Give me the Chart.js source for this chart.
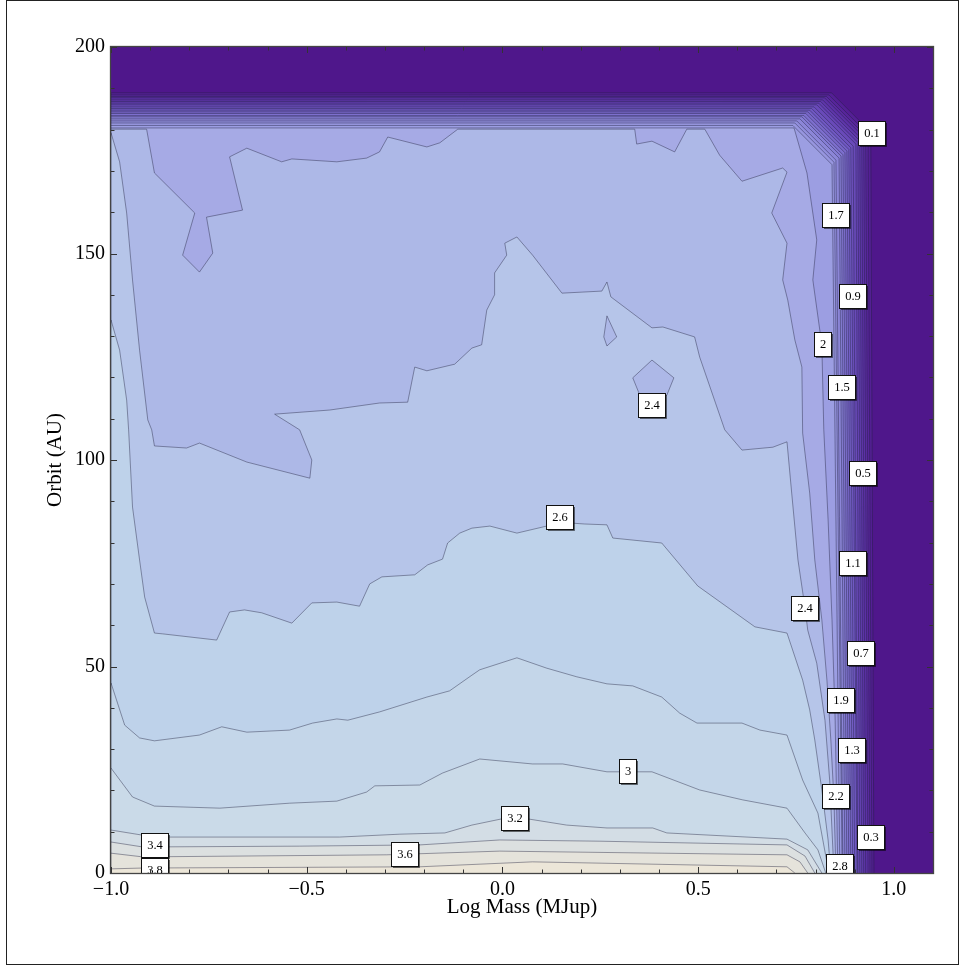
<!DOCTYPE html>
<html><head><meta charset="utf-8">
<script src="https://cdn.jsdelivr.net/npm/chart.js@4.4.1/dist/chart.umd.min.js"></script>
<style>html,body{margin:0;padding:0;background:#fff}#wrap{position:relative;width:960px;height:966px}</style>
</head><body><div id="wrap"><canvas id="c"></canvas></div>
<script>
// ---------- axis ticks ----------
const xMajorTicks = [-1, -0.5, 0, 0.5, 1];
const xMinorTicks = [-0.9,-0.8,-0.7,-0.6,-0.4,-0.3,-0.2,-0.1,0.1,0.2,0.3,0.4,0.6,0.7,0.8,0.9];
const yMajorTicks = [0, 50, 100, 150, 200];
const yMinorTicks = [10,20,30,40,60,70,80,90,110,120,130,140,160,170,180,190];

// ---------- dense contour band (levels 0.1 .. 1.9) ----------
const bandLevels       = [0.1,0.2,0.3,0.4,0.5,0.6,0.7,0.8,0.9,1.0,1.1,1.2,1.3,1.4,1.5,1.6,1.7,1.8,1.9];
const bandTopY         = [188.9,188.4,188.0,187.7,187.2,186.8,186.4,186.0,185.5,185.1,184.7,184.3,183.9,183.4,183.1,182.6,182.1,181.6,181.0];
const bandRightTopX    = [0.941,0.934,0.928,0.923,0.918,0.913,0.908,0.903,0.896,0.890,0.885,0.880,0.875,0.870,0.865,0.860,0.852,0.847,0.842];
const bandRightBottomX = [0.949,0.944,0.939,0.934,0.928,0.923,0.918,0.913,0.908,0.906,0.900,0.895,0.890,0.885,0.880,0.875,0.870,0.868,0.862];

// ---------- traced contours (value >= level lies to the lower-left) ----------
const contour20 = [[-1,180.4],[0.745,180.4],[0.778,169.5],[0.803,153.3],[0.793,143.6],[0.816,127.9],[0.821,107.3],[0.832,85.5],[0.842,61.3],[0.850,37.0],[0.857,0]];
const contour22 = [[-1,180.1],[-0.909,180.1],[-0.889,169.5],[-0.786,159.8],[-0.817,149.6],[-0.774,145.5],[-0.740,150.1],[-0.756,158.8],[-0.664,160.5],[-0.697,173.4],[-0.653,175.5],[-0.564,172.2],[-0.538,172.9],[-0.423,172.2],[-0.347,173.1],[-0.314,174.6],[-0.293,178.2],[-0.193,175.8],[-0.160,176.8],[-0.114,180.1],[0.338,180.1],[0.343,176.5],[0.382,177.2],[0.440,174.6],[0.471,180.1],[0.517,180.1],[0.555,173.8],[0.612,167.5],[0.716,170.7],[0.727,169.7],[0.688,159.8],[0.727,152.5],[0.716,143.6],[0.729,138.7],[0.747,129.1],[0.765,122.5],[0.767,106.5],[0.785,92.0],[0.798,75.8],[0.816,61.3],[0.829,46.7],[0.839,32.2],[0.847,17.7],[0.852,0]];
const contour24 = [[-1,179.2],[-0.978,172.2],[-0.960,159.8],[-0.945,143.6],[-0.927,126.6],[-0.906,109.7],[-0.896,107.3],[-0.889,103.4],[-0.807,102.9],[-0.774,104.1],[-0.653,99.5],[-0.492,95.6],[-0.487,100.0],[-0.518,107.3],[-0.582,111.1],[-0.441,112.1],[-0.314,113.8],[-0.242,114.0],[-0.224,122.5],[-0.193,121.6],[-0.122,123.2],[-0.078,127.1],[-0.053,127.9],[-0.040,136.3],[-0.020,140.0],[-0.020,145.3],[0.011,149.6],[0.006,152.5],[0.037,154.0],[0.077,149.6],[0.152,140.4],[0.254,140.9],[0.267,143.1],[0.277,139.5],[0.382,132.0],[0.410,132.2],[0.491,129.8],[0.504,124.9],[0.568,107.3],[0.612,102.4],[0.691,103.1],[0.727,104.4],[0.739,92.0],[0.755,75.8],[0.773,64.2],[0.780,58.8],[0.803,50.8],[0.824,37.0],[0.836,22.5],[0.847,0]];
const hole24a  = [[0.382,124.2],[0.438,119.9],[0.420,115.7],[0.351,115.7],[0.333,119.9],[0.382,124.2]];
const hole24b  = [[0.267,134.9],[0.292,129.8],[0.267,127.6],[0.259,129.8],[0.267,134.9]];
const contour26 = [[-1,133.9],[-0.978,126.6],[-0.960,114.5],[-0.955,107.3],[-0.945,88.6],[-0.927,75.8],[-0.914,66.8],[-0.889,58.1],[-0.868,57.9],[-0.730,56.4],[-0.697,63.2],[-0.659,63.7],[-0.615,63.0],[-0.538,60.5],[-0.487,65.4],[-0.423,65.6],[-0.365,64.6],[-0.339,70.0],[-0.308,71.7],[-0.224,72.2],[-0.191,74.6],[-0.153,76.0],[-0.140,79.9],[-0.109,82.3],[-0.078,83.5],[-0.032,84.0],[0.037,82.3],[0.113,84.0],[0.180,84.7],[0.210,84.5],[0.267,84.3],[0.282,81.1],[0.407,79.9],[0.499,69.5],[0.645,59.6],[0.727,58.1],[0.767,46.7],[0.785,39.5],[0.798,32.2],[0.816,20.1],[0.832,8.0],[0.839,0]];
const contour28 = [[-1,46.0],[-0.965,35.8],[-0.927,32.7],[-0.889,32.0],[-0.774,33.4],[-0.717,35.4],[-0.653,34.1],[-0.544,34.6],[-0.485,36.3],[-0.423,37.3],[-0.395,37.0],[-0.314,39.0],[-0.193,42.6],[-0.135,44.1],[-0.078,47.9],[-0.058,49.2],[0.037,52.1],[0.113,49.6],[0.190,47.5],[0.267,45.8],[0.333,45.3],[0.407,42.6],[0.453,38.7],[0.497,36.3],[0.612,36.3],[0.658,34.6],[0.727,33.4],[0.767,22.5],[0.806,14.5],[0.834,0]];
const contour30 = [[-1,25.4],[-0.945,18.4],[-0.889,16.2],[-0.722,15.7],[-0.544,16.9],[-0.423,17.4],[-0.347,19.6],[-0.326,21.1],[-0.211,21.3],[-0.153,24.2],[-0.058,27.6],[0.077,26.4],[0.154,26.4],[0.267,24.5],[0.382,24.5],[0.504,20.1],[0.614,17.7],[0.727,15.7],[0.773,9.7],[0.806,5.6],[0.826,0]];
const contour32 = [[-1,10.4],[-0.922,9.2],[-0.858,8.7],[-0.416,8.7],[-0.262,9.4],[-0.147,9.7],[-0.078,11.6],[-0.002,13.1],[0.065,13.1],[0.164,11.6],[0.267,10.9],[0.384,10.9],[0.420,9.7],[0.727,8.2],[0.780,5.6],[0.816,0]];
const contour34 = [[-1,7.5],[-0.919,6.3],[-0.518,6.5],[-0.211,6.8],[-0.007,8.0],[0.249,7.7],[0.727,6.8],[0.773,4.1],[0.798,0]];
const contour36 = [[-1,4.8],[-0.919,3.9],[-0.296,4.4],[-0.007,5.3],[0.727,4.4],[0.760,2.7],[0.780,0]];
const contour38 = [[-1,1.0],[-0.919,1.2],[-0.211,1.5],[0.077,2.7],[0.727,1.5],[0.747,0]];

// ---------- contour labels ----------
const labelTexts = ['0.1','1.7','0.9','2','1.5','2.4','0.5','2.6','1.1','2.4','0.7','1.9','1.3','3','2.2','3.2','0.3','3.4','3.6','2.8','3.8'];
const labelX     = [0.944,0.852,0.895,0.819,0.867,0.382,0.921,0.147,0.895,0.773,0.916,0.865,0.893,0.321,0.852,0.031,0.941,-0.888,-0.250,0.862,-0.888];
const labelY     = [179.2,159.3,139.7,128.1,117.7,113.3,96.9,86.2,75.1,64.2,53.3,41.9,29.8,24.7,18.6,13.3,8.7,6.8,4.5,1.7,0.7];

// ---------- style ----------
const colorStops = [
  [0.0,[79,23,139]],[0.1,[84,31,149]],[0.5,[95,54,171]],[1.0,[112,88,195]],[1.5,[134,126,213]],
  [1.9,[156,158,226]],[2.0,[166,170,229]],[2.2,[173,184,231]],[2.4,[182,197,233]],[2.6,[190,210,234]],
  [2.8,[196,214,233]],[3.0,[202,218,232]],[3.2,[211,221,229]],[3.4,[220,224,224]],[3.6,[229,227,219]],[3.8,[236,230,216]]
];
const lineColor = 'rgba(30,30,60,0.42)';
const cornerCut = {dx: 0.10, dy: 9.5};
const serif = '"Liberation Serif", "Times New Roman", serif';

function colorAt(v) {
  for (let i = 0; i < colorStops.length - 1; i++) {
    const [a, ca] = colorStops[i], [b, cb] = colorStops[i + 1];
    if (v >= a - 1e-9 && v <= b + 1e-9) {
      const t = (v - a) / (b - a);
      const c = ca.map((k, j) => Math.round(k + (cb[j] - k) * t));
      return `rgb(${c[0]},${c[1]},${c[2]})`;
    }
  }
  const c = colorStops[colorStops.length - 1][1];
  return `rgb(${c[0]},${c[1]},${c[2]})`;
}
const toPts = arr => arr.map(p => ({x: p[0], y: p[1]}));
const fromCorner = arr => [{x: -1, y: 0}].concat(toPts(arr));

// ---------- build regions (drawn in sequence, lowest level first) ----------
const regions = [];
regions.push({pts: toPts([[-1,0],[-1,200],[1.1,200],[1.1,0]]), level: 0, stroke: false});
bandLevels.forEach((lv, i) => {
  const yt = bandTopY[i], xt = bandRightTopX[i], xb = bandRightBottomX[i];
  regions.push({pts: [{x:-1,y:0},{x:-1,y:yt},{x:xt-cornerCut.dx,y:yt},{x:xt,y:yt-cornerCut.dy},{x:xb,y:0}], level: lv, stroke: true});
});
regions.push({pts: fromCorner(contour20), level: 2.0, stroke: true});
regions.push({pts: fromCorner(contour22), level: 2.2, stroke: true});
regions.push({pts: fromCorner(contour24), level: 2.4, stroke: true});
regions.push({pts: toPts(hole24a), level: 2.2, stroke: true});
regions.push({pts: toPts(hole24b), level: 2.2, stroke: true});
regions.push({pts: fromCorner(contour26), level: 2.6, stroke: true});
regions.push({pts: fromCorner(contour28), level: 2.8, stroke: true});
regions.push({pts: fromCorner(contour30), level: 3.0, stroke: true});
regions.push({pts: fromCorner(contour32), level: 3.2, stroke: true});
regions.push({pts: fromCorner(contour34), level: 3.4, stroke: true});
regions.push({pts: fromCorner(contour36), level: 3.6, stroke: true});
regions.push({pts: fromCorner(contour38), level: 3.8, stroke: true});

const N = regions.length;
const datasets = regions.map((r, i) => ({
  data: r.pts,
  showLine: true,
  fill: 'shape',
  backgroundColor: colorAt(r.level),
  borderColor: r.stroke ? lineColor : 'rgba(0,0,0,0)',
  borderWidth: r.stroke ? 1 : 0,
  pointRadius: 0,
  pointHoverRadius: 0,
  tension: 0,
  order: N - i
}));

const fmtX = v => (Math.abs(v) < 1e-9 ? '0.0' : (v < 0 ? '\u2212' + Math.abs(v).toFixed(1) : v.toFixed(1)));

const decor = {
  id: 'decor',
  afterDraw(chart) {
    const {ctx, chartArea: a} = chart;
    const xs = chart.scales.x, ys = chart.scales.y;
    // contour labels
    ctx.save();
    ctx.beginPath(); ctx.rect(a.left, a.top, a.right - a.left, a.bottom - a.top); ctx.clip();
    ctx.font = '12.5px ' + serif;
    labelTexts.forEach((t, i) => {
      const px = Math.round(xs.getPixelForValue(labelX[i]));
      const py = Math.round(ys.getPixelForValue(labelY[i]));
      const w = Math.round(ctx.measureText(t).width) + 12, h = 25;
      const l = Math.round(px - w / 2), tp = Math.round(py - h / 2);
      ctx.fillStyle = '#fff'; ctx.fillRect(l, tp, w, h);
      ctx.strokeStyle = '#111'; ctx.lineWidth = 1; ctx.strokeRect(l + 0.5, tp + 0.5, w - 1, h - 1);
      ctx.strokeStyle = 'rgba(0,0,0,0.55)';
      ctx.beginPath(); ctx.moveTo(l + w + 0.5, tp + 2); ctx.lineTo(l + w + 0.5, tp + h + 0.5); ctx.lineTo(l + 2, tp + h + 0.5); ctx.stroke();
      ctx.fillStyle = '#000'; ctx.textAlign = 'center'; ctx.textBaseline = 'middle';
      ctx.fillText(t, px, py + 1);
    });
    ctx.restore();
    // ticks (inward, all four sides)
    ctx.save();
    ctx.strokeStyle = '#333'; ctx.lineWidth = 1;
    ctx.beginPath();
    const xt = (v, len) => { const p = Math.round(xs.getPixelForValue(v)) + 0.5; ctx.moveTo(p, a.bottom); ctx.lineTo(p, a.bottom - len); ctx.moveTo(p, a.top); ctx.lineTo(p, a.top + len); };
    const yt = (v, len) => { const p = Math.round(ys.getPixelForValue(v)) + 0.5; ctx.moveTo(a.left, p); ctx.lineTo(a.left + len, p); ctx.moveTo(a.right, p); ctx.lineTo(a.right - len, p); };
    xMajorTicks.forEach(v => xt(v, 6)); xMinorTicks.forEach(v => xt(v, 3.5));
    yMajorTicks.forEach(v => yt(v, 6)); yMinorTicks.forEach(v => yt(v, 3.5));
    ctx.stroke();
    // plot frame
    ctx.strokeStyle = '#444'; ctx.lineWidth = 1.3;
    ctx.strokeRect(a.left - 0.5, a.top - 0.5, a.right - a.left + 1, a.bottom - a.top + 1);
    // outer picture frame
    ctx.strokeStyle = '#222'; ctx.lineWidth = 1;
    ctx.strokeRect(6.5, 0.5, 952, 964);
    ctx.restore();
  }
};

Chart.defaults.font.family = serif;
new Chart(document.getElementById('c'), {
  type: 'scatter',
  data: {datasets},
  options: {
    responsive: true, maintainAspectRatio: false, animation: false, events: [],
    layout: {padding: {left: 0, right: 27, top: 47, bottom: 0}},
    plugins: {legend: {display: false}, tooltip: {enabled: false}, filler: {propagate: false}},
    scales: {
      x: {
        type: 'linear', position: 'bottom', min: -1, max: 1.1,
        grid: {display: false, drawTicks: false}, border: {display: false},
        afterBuildTicks: s => { s.ticks = xMajorTicks.map(v => ({value: v})); },
        afterFit: s => { s.height = 93; },
        ticks: {autoSkip: false, maxRotation: 0, padding: 5, color: '#000', font: {size: 20}, callback: v => fmtX(v)},
        title: {display: true, text: 'Log Mass (MJup)', color: '#000', font: {size: 21}, padding: {top: 0, bottom: 46}}
      },
      y: {
        type: 'linear', position: 'left', min: 0, max: 200,
        grid: {display: false, drawTicks: false}, border: {display: false},
        afterBuildTicks: s => { s.ticks = yMajorTicks.map(v => ({value: v})); },
        afterFit: s => { s.width = 111; },
        ticks: {autoSkip: false, padding: 6, color: '#000', font: {size: 20}, callback: v => String(v)},
        title: {display: true, text: 'Orbit (AU)', color: '#000', font: {size: 21}, padding: {top: 43, bottom: 0}}
      }
    }
  },
  plugins: [decor]
});
</script>
</body></html>
